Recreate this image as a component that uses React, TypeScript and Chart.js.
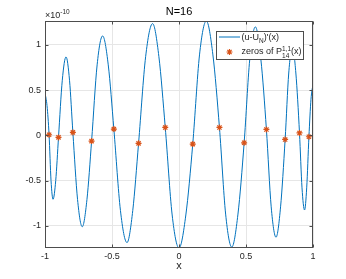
import React, { useEffect, useRef } from "react";
import { Chart, registerables } from "chart.js";

Chart.register(...registerables);

// ---- data (values in units of 1e-10) ----
const curveX = [
  -1, -0.985, -0.9696, -0.955, -0.94, -0.92, -0.8992, -0.871, -0.843, -0.817,
  -0.792, -0.757, -0.722, -0.687, -0.6523, -0.611, -0.57, -0.528, -0.4861,
  -0.437, -0.388, -0.345, -0.3018, -0.249, -0.197, -0.15, -0.1026, -0.051, 0,
  0.051, 0.1026, 0.153, 0.204, 0.253, 0.3018, 0.348, 0.394, 0.44, 0.4861,
  0.528, 0.57, 0.611, 0.6523, 0.688, 0.724, 0.758, 0.792, 0.819, 0.846, 0.872,
  0.8992, 0.918, 0.937, 0.953, 0.9696, 0.985, 1,
];
const curveY = [
  0.47, 0.33, 0.007, -0.5, -0.706, -0.5, -0.022, 0.61, 0.868, 0.61,
  0.033, -0.71, -1.01, -0.71, -0.063, 0.78, 1.1, 0.78, 0.07,
  -0.83, -1.185, -0.83, -0.088, 0.87, 1.236, 0.87, 0.088, -0.88, -1.245,
  -0.88, -0.096, 0.89, 1.265, 0.89, 0.088, -0.87, -1.235, -0.87, -0.082,
  0.84, 1.2, 0.84, 0.066, -0.79, -1.126, -0.79, -0.045, 0.69, 0.98, 0.69,
  0.027, -0.58, -0.825, -0.58, -0.015, 0.4, 0.566,
];
const zerosX = [
  -0.9696, -0.8992, -0.792, -0.6523, -0.4861, -0.3018, -0.1026,
  0.1026, 0.3018, 0.4861, 0.6523, 0.792, 0.8992, 0.9696,
];
const zerosY = [
  0.007, -0.022, 0.033, -0.063, 0.07, -0.088, 0.088,
  -0.096, 0.088, -0.082, 0.066, -0.045, 0.027, -0.015,
];
const xTicks = [-1, -0.5, 0, 0.5, 1];
const yTicks = [-1, -0.5, 0, 0.5, 1];
const xRange = [-1, 1];
const yRange = [-1.245, 1.265];
const titleText = "N=16";
const xLabelText = "x";
const expBase = "\u00d710";
const expPower = "-10";

const FONT = '"Liberation Sans", Arial, Helvetica, sans-serif';
const BLUE = "#0072BD";
const ORANGE = "#D95319";
const TXT = "#262626";
const AXIS = "#4d4d4d";

function drawStar(ctx: CanvasRenderingContext2D, x: number, y: number, r: number) {
  ctx.beginPath();
  ctx.moveTo(x - r, y);
  ctx.lineTo(x + r, y);
  ctx.moveTo(x, y - r);
  ctx.lineTo(x, y + r);
  const d = r * 0.7071;
  ctx.moveTo(x - d, y - d);
  ctx.lineTo(x + d, y + d);
  ctx.moveTo(x - d, y + d);
  ctx.lineTo(x + d, y - d);
  ctx.stroke();
}

const decorPlugin = {
  id: "decor",
  afterDraw(chart: any) {
    const ctx: CanvasRenderingContext2D = chart.ctx;
    const { left, right, top, bottom } = chart.chartArea;
    const xs = chart.scales.x;
    const ys = chart.scales.y;
    ctx.save();
    // box
    ctx.strokeStyle = AXIS;
    ctx.lineWidth = 1;
    const L = Math.round(left) + 0.5;
    const R = Math.round(right) - 0.5;
    const T = Math.round(top) + 0.5;
    const B = Math.round(bottom) - 0.5;
    ctx.strokeRect(L, T, R - L, B - T);
    // inner ticks
    const tl = 3;
    ctx.beginPath();
    xTicks.forEach((v) => {
      const px = Math.round(xs.getPixelForValue(v)) + 0.5;
      ctx.moveTo(px, B);
      ctx.lineTo(px, B - tl);
      ctx.moveTo(px, T);
      ctx.lineTo(px, T + tl);
    });
    yTicks.forEach((v) => {
      const py = Math.round(ys.getPixelForValue(v)) + 0.5;
      ctx.moveTo(L, py);
      ctx.lineTo(L + tl, py);
      ctx.moveTo(R, py);
      ctx.lineTo(R - tl, py);
    });
    ctx.stroke();

    // title
    ctx.fillStyle = "#000";
    ctx.font = `11px ${FONT}`;
    ctx.textAlign = "center";
    ctx.textBaseline = "middle";
    ctx.fillText(titleText, (left + right) / 2, 11.5);

    // x label
    ctx.fillStyle = TXT;
    ctx.font = `11px ${FONT}`;
    ctx.fillText(xLabelText, (left + right) / 2, 266);

    // exponent
    ctx.textAlign = "left";
    ctx.textBaseline = "alphabetic";
    ctx.font = `9px ${FONT}`;
    ctx.fillText(expBase, left, 17.5);
    const bw = ctx.measureText(expBase).width;
    ctx.font = `6.5px ${FONT}`;
    ctx.fillText(expPower, left + bw, 14);

    // legend
    const lx0 = 216, ly0 = 31, lx1 = 304, ly1 = 60;
    ctx.fillStyle = "#fff";
    ctx.fillRect(lx0, ly0, lx1 - lx0, ly1 - ly0);
    ctx.strokeStyle = AXIS;
    ctx.strokeRect(lx0 + 0.5, ly0 + 0.5, lx1 - lx0 - 1, ly1 - ly0 - 1);
    // row 1
    ctx.strokeStyle = BLUE;
    ctx.beginPath();
    ctx.moveTo(219, 37);
    ctx.lineTo(240, 37);
    ctx.stroke();
    ctx.fillStyle = TXT;
    let tx = 241.5;
    ctx.font = `9px ${FONT}`;
    ctx.fillText("(u-U", tx, 40);
    tx += ctx.measureText("(u-U").width;
    ctx.font = `6.5px ${FONT}`;
    ctx.fillText("N", tx, 42.5);
    tx += ctx.measureText("N").width;
    ctx.font = `9px ${FONT}`;
    ctx.fillText(")'(x)", tx, 40);
    // row 2
    ctx.strokeStyle = ORANGE;
    ctx.lineWidth = 1.2;
    drawStar(ctx, 229.5, 52, 3);
    tx = 241.5;
    ctx.font = `9px ${FONT}`;
    ctx.fillText("zeros of P", tx, 54);
    tx += ctx.measureText("zeros of P").width;
    ctx.font = `6.5px ${FONT}`;
    ctx.fillText("1,1", tx, 50.5);
    const w1 = ctx.measureText("1,1").width;
    ctx.fillText("14", tx, 57.5);
    const w2 = ctx.measureText("14").width;
    tx += Math.max(w1, w2);
    ctx.font = `9px ${FONT}`;
    ctx.fillText("(x)", tx, 54);
    ctx.restore();
  },
};

export default function App() {
  const ref = useRef<HTMLCanvasElement | null>(null);
  useEffect(() => {
    if (!ref.current) return;
    const lineData = curveX.map((x, i) => ({ x, y: curveY[i] }));
    const zeroData = zerosX.map((x, i) => ({ x, y: zerosY[i] }));
    const chart = new Chart(ref.current, {
      type: "line",
      data: {
        datasets: [
          {
            data: zeroData,
            showLine: false,
            pointStyle: "star",
            pointRadius: 3,
            borderColor: ORANGE,
            backgroundColor: ORANGE,
            pointBorderWidth: 1.2,
            order: 0,
          } as any,
          {
            data: lineData,
            borderColor: BLUE,
            borderWidth: 1,
            pointRadius: 0,
            cubicInterpolationMode: "monotone",
            fill: false,
            order: 1,
          },
        ],
      },
      options: {
        animation: false,
        responsive: false,
        devicePixelRatio: 1,
        layout: { padding: { top: 21, right: 33, left: 0, bottom: 0 } },
        plugins: { legend: { display: false }, tooltip: { enabled: false }, title: { display: false } },
        scales: {
          x: {
            type: "linear",
            min: xRange[0],
            max: xRange[1],
            afterBuildTicks: (s: any) => {
              s.ticks = xTicks.map((v) => ({ value: v }));
            },
            afterFit: (s: any) => {
              s.height = 31;
            },
            grid: { color: "#e6e6e6", lineWidth: 1, drawTicks: false },
            border: { display: false },
            ticks: {
              font: { family: FONT, size: 9 },
              color: TXT,
              padding: 3,
              maxRotation: 0,
              autoSkip: false,
              callback: (v: any) => String(v),
            },
          },
          y: {
            type: "linear",
            min: yRange[0],
            max: yRange[1],
            afterBuildTicks: (s: any) => {
              s.ticks = yTicks.map((v) => ({ value: v }));
            },
            afterFit: (s: any) => {
              s.width = 45;
            },
            grid: { color: "#e6e6e6", lineWidth: 1, drawTicks: false },
            border: { display: false },
            ticks: {
              font: { family: FONT, size: 9 },
              color: TXT,
              padding: 4,
              autoSkip: false,
              callback: (v: any) => String(v),
            },
          },
        },
      } as any,
      plugins: [decorPlugin],
    });
    return () => chart.destroy();
  }, []);
  return (
    <div style={{ position: "fixed", left: 0, top: 0, width: 346, height: 279, background: "#fff" }}>
      <canvas ref={ref} width={346} height={279} style={{ width: 346, height: 279, display: "block" }} />
    </div>
  );
}
